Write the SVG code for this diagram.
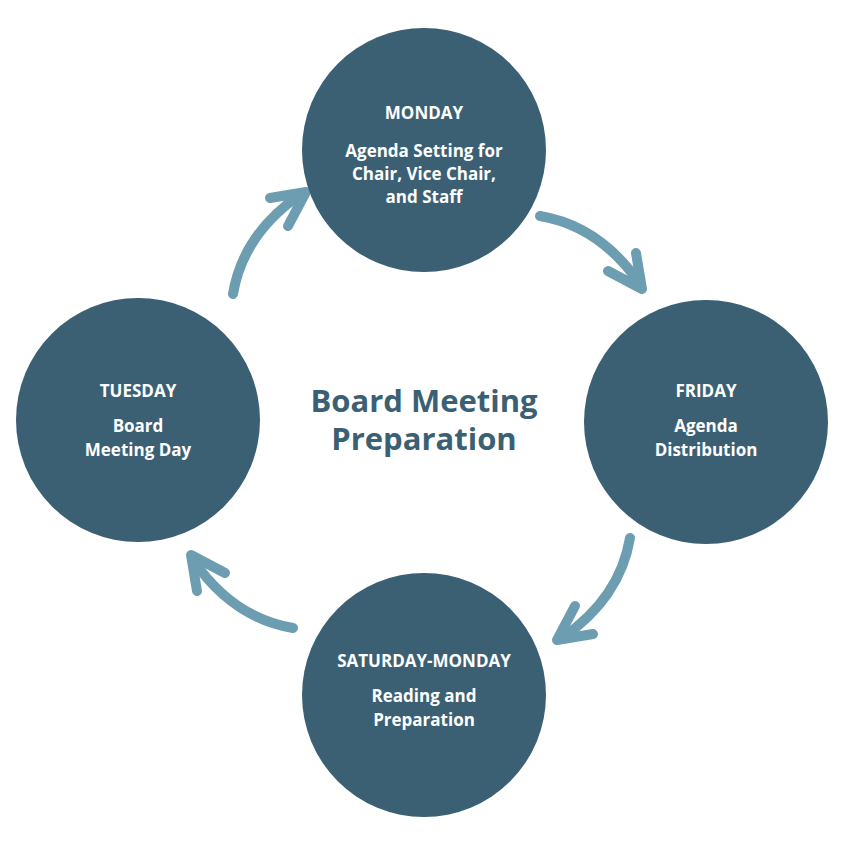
<svg xmlns="http://www.w3.org/2000/svg" width="841" height="841" viewBox="0 0 841 841">
<style>
.c{fill:#3b6074}
.t{font-family:"Open Sans",sans-serif;font-weight:700;font-size:17px;fill:#fff;text-anchor:middle}
.a{fill:none;stroke:#6d9db0;stroke-width:10;stroke-linecap:round;stroke-linejoin:round}
</style>
<defs>
<g id="arr"><path class="a" d="M540,216 Q600,226 640,284"/><polyline class="a" points="608,271 642,289 636,253"/></g>
</defs>
<rect width="841" height="841" fill="#fff"/>
<g id="connectors">
<use href="#arr"/>
<use href="#arr" transform="rotate(90 424 422)"/>
<use href="#arr" transform="rotate(180 424 422) translate(15 0)"/>
<use href="#arr" transform="rotate(270 424 422) translate(12 15)"/>
</g>
<g id="monday"><circle class="c" cx="424" cy="150" r="122"/>
<text class="t" x="424" y="119">MONDAY</text>
<text class="t" x="424" y="157">Agenda Setting for</text>
<text class="t" x="424" y="180">Chair, Vice Chair,</text>
<text class="t" x="424" y="203">and Staff</text></g>
<g id="friday"><circle class="c" cx="706" cy="422" r="122"/>
<text class="t" x="706" y="397">FRIDAY</text>
<text class="t" x="706" y="432">Agenda</text>
<text class="t" x="706" y="456">Distribution</text></g>
<g id="saturday"><circle class="c" cx="424" cy="695" r="122"/>
<text class="t" x="424" y="667">SATURDAY-MONDAY</text>
<text class="t" x="424" y="702">Reading and</text>
<text class="t" x="424" y="726">Preparation</text></g>
<g id="tuesday"><circle class="c" cx="138" cy="420" r="122"/>
<text class="t" x="138" y="397">TUESDAY</text>
<text class="t" x="138" y="432">Board</text>
<text class="t" x="138" y="456">Meeting Day</text></g>
<g id="title"><text x="424" y="412" style="font-family:'Open Sans',sans-serif;font-weight:700;font-size:31px;fill:#3b6074;text-anchor:middle">Board Meeting</text>
<text x="424" y="450" style="font-family:'Open Sans',sans-serif;font-weight:700;font-size:31px;fill:#3b6074;text-anchor:middle">Preparation</text></g>
</svg>
